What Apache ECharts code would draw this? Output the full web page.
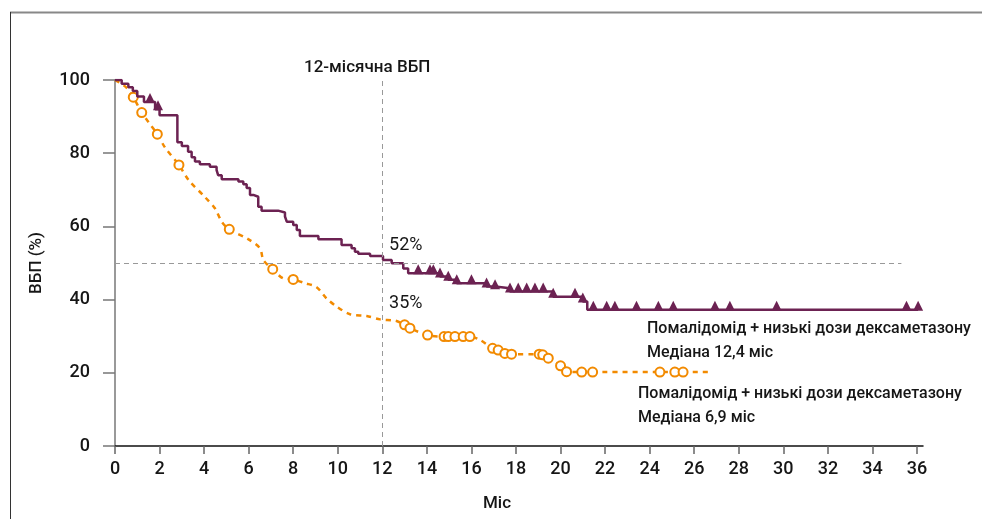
<!DOCTYPE html>
<html>
<head>
<meta charset="utf-8">
<script src="https://cdn.jsdelivr.net/npm/echarts@6/dist/echarts.min.js"></script>
<style>
html,body{margin:0;padding:0;background:#fff;}
#chart{width:982px;height:519px;}
</style>
</head>
<body>
<div id="chart"></div>
<script>
// ---- Data ----
const xTickStep = 2;             // months
const yTickValues = [0, 20, 40, 60, 80, 100];

// Pomalidomide + low-dose dex (purple) KM steps: [month, PFS %]
const purpleSteps = [
  [0,100],[0.3,99],[0.6,98],[0.8,97],[1.0,95.5],[1.3,94],[1.8,92],[2.0,90.4],
  [2.8,83],[3.0,82],[3.28,80.4],[3.44,78.9],[3.59,77.7],[3.81,77.0],[4.26,76.3],
  [4.56,75.4],[4.63,74.0],[4.79,72.9],[5.54,72.3],[5.76,71.5],[5.91,70.5],[6.06,68.6],
  [6.21,68.1],[6.43,65.4],[6.58,64.3],[7.32,63.8],[7.63,62.7],[7.71,61.3],[8.0,60.4],
  [8.16,59.0],[8.30,57.4],[9.13,56.5],[10.17,54.9],[10.62,54.0],[10.77,53.1],[10.92,52.5],
  [11.45,51.9],[12.03,50.8],[12.42,49.9],[12.94,48.5],[13.16,47.2],[14.59,46.3],[14.96,45.4],
  [15.34,44.5],[16.68,43.6],[17.06,43.1],[17.73,42.2],[19.67,40.8],[21.0,39.5],[21.2,37.2],
  [36.05,37.2]
];
// censored (triangles)
const purpleCensored = [
  [1.57,94],[1.93,92],[13.61,47.2],[14.14,47.2],[14.29,47.2],[14.59,46.3],[14.96,45.4],
  [15.34,44.5],[16.0,44.5],[16.68,43.6],[17.06,43.1],[17.73,42.2],[18.1,42.2],[18.48,42.2],
  [18.85,42.2],[19.22,42.2],[19.67,40.8],[20.65,40.8],[21.0,39.5],[21.47,37.2],[22.07,37.2],
  [22.44,37.2],[23.41,37.2],[24.39,37.2],[25.06,37.2],[26.93,37.2],[27.6,37.2],[29.7,37.2],
  [35.53,37.2],[36.05,37.2]
];

// Pomalidomide + low-dose dex (orange) curve: [month, PFS %]
const orangeCurve = [
  [0,100],[0.5,98],[0.82,95.3],[1.2,91.1],[1.5,88.5],[1.9,85.2],[2.24,81.6],[2.87,76.8],
  [3.3,72.7],[4.04,68.0],[4.49,64.9],[4.79,61.3],[5.13,59.2],[5.98,56.5],[6.51,54.0],
  [6.66,50.8],[7.08,48.3],[7.55,45.8],[8.0,45.5],[8.53,44.5],[9.05,43.4],[9.50,40.3],
  [9.95,38.1],[10.55,36.0],[11.3,35.5],[11.9,34.6],[12.6,34.2],[13.0,33.1],[13.24,32.2],
  [14.03,30.3],[14.77,29.9],[15.93,29.9],[16.38,29.0],[16.95,26.7],[17.2,26.2],[17.5,25.3],
  [17.8,25.1],[19.04,25.1],[19.2,24.9],[19.45,24.0],[20.0,21.9],[20.27,20.3],[20.95,20.2],
  [26.7,20.2]
];
// censored (circles)
const orangeCensored = [
  [0.82,95.3],[1.2,91.1],[1.9,85.2],[2.87,76.8],[5.13,59.2],[7.08,48.3],[8.0,45.5],
  [13.0,33.1],[13.24,32.2],[14.03,30.3],[14.77,29.9],[14.96,29.9],[15.26,29.9],[15.63,29.9],
  [15.93,29.9],[16.95,26.7],[17.2,26.2],[17.5,25.3],[17.8,25.1],[19.04,25.1],[19.2,24.9],
  [19.45,24.0],[20.0,21.9],[20.27,20.3],[20.95,20.2],[21.44,20.2],[24.46,20.2],[25.13,20.2],
  [25.5,20.2]
];

const landmarkMonth = 12;
const purpleAt12 = '52%';
const orangeAt12 = '35%';
const refLevel = 50;
const refLineEnd = 35.3;

const texts = {
  title: '12-місячна ВБП',
  yName: 'ВБП (%)',
  xName: 'Міс',
  arm1: 'Помалідомід + низькі дози дексаметазону',
  arm1Median: 'Медіана 12,4 міс',
  arm2: 'Помалідомід + низькі дози дексаметазону',
  arm2Median: 'Медіана 6,9 міс'
};

// ---- Chart ----
const PURPLE = '#6c2252';
const ORANGE = '#f28a00';
const FONT = 'Roboto, "Noto Sans", sans-serif';
const TXT = '#161616';

const chart = echarts.init(document.getElementById('chart'), null, {renderer: 'canvas'});

const option = {
  animation: false,
  backgroundColor: '#fff',
  title: {
    text: texts.title,
    left: 299, top: 54,
    textStyle: {fontFamily: FONT, fontSize: 17, fontWeight: 500, color: TXT}
  },
  grid: {left: 115, right: 59, top: 80, bottom: 73},
  xAxis: {
    type: 'value',
    min: 0, max: 36.27, interval: xTickStep,
    name: texts.xName,
    nameLocation: 'middle', nameGap: 49,
    nameTextStyle: {fontFamily: FONT, fontSize: 17, fontWeight: 500, color: TXT, padding: [0, 44, 0, 0]},
    axisLine: {show: true, lineStyle: {color: '#111', width: 1.5}},
    axisTick: {show: true, length: 8, lineStyle: {color: '#666', width: 1.5}},
    axisLabel: {fontFamily: FONT, fontSize: 18, fontWeight: 500, color: TXT, margin: 14,
      showMaxLabel: false},
    splitLine: {show: false}
  },
  yAxis: {
    type: 'value',
    min: 0, max: 100, interval: 20,
    name: texts.yName,
    nameLocation: 'middle', nameGap: 70,
    nameTextStyle: {fontFamily: FONT, fontSize: 17, fontWeight: 500, color: TXT},
    axisLine: {show: true, lineStyle: {color: '#777', width: 1.5}},
    axisTick: {show: true, length: 12, lineStyle: {color: '#777', width: 1.5}},
    axisLabel: {fontFamily: FONT, fontSize: 18, fontWeight: 500, color: TXT, margin: 25,
      formatter: v => yTickValues.includes(v) ? String(v) : ''},
    splitLine: {show: false}
  },
  series: [
    {
      type: 'line',
      name: 'ref',
      data: [],
      silent: true,
      markLine: {
        silent: true, symbol: 'none',
        label: {show: false},
        lineStyle: {color: '#999', type: [5, 4], width: 1},
        data: [
          [{coord: [0, refLevel]}, {coord: [refLineEnd, refLevel]}],
          [{coord: [landmarkMonth, 0]}, {coord: [landmarkMonth, 100]}]
        ]
      },
      markPoint: {
        silent: true, symbolSize: 0,
        label: {show: true, position: 'right', distance: 0, fontFamily: FONT, fontSize: 18, color: TXT,
          formatter: p => p.name},
        data: [
          {name: purpleAt12, coord: [12.3, 54.9]},
          {name: orangeAt12, coord: [12.3, 38.8]}
        ]
      }
    },
    {
      type: 'line',
      name: 'orange',
      data: orangeCurve,
      showSymbol: false,
      smooth: 0.3,
      lineStyle: {color: ORANGE, width: 2.5, type: [5, 5]},
      z: 2
    },
    {
      type: 'scatter',
      name: 'orangeC',
      data: orangeCensored,
      symbol: 'emptyCircle',
      symbolSize: 9,
      itemStyle: {color: ORANGE, borderColor: ORANGE, borderWidth: 2, opacity: 1},
      z: 3
    },
    {
      type: 'line',
      name: 'purple',
      data: purpleSteps,
      step: 'end',
      showSymbol: false,
      lineStyle: {color: PURPLE, width: 2.5},
      z: 4
    },
    {
      type: 'scatter',
      name: 'purpleC',
      data: purpleCensored,
      symbol: 'triangle',
      symbolSize: [10, 10],
      symbolOffset: [0, -4],
      itemStyle: {color: PURPLE, opacity: 1},
      z: 5
    }
  ],
  graphic: [
    {type: 'line', shape: {x1: 10, y1: 12.5, x2: 982, y2: 12.5}, style: {stroke: '#888', lineWidth: 2}, silent: true},
    {type: 'line', shape: {x1: 10.5, y1: 12, x2: 10.5, y2: 519}, style: {stroke: '#333', lineWidth: 1}, silent: true},
    {type: 'text', left: 647, top: 317, style: {text: texts.arm1 + '\n' + texts.arm1Median, fontFamily: FONT, fontSize: 16, fontWeight: 500, lineHeight: 24, fill: TXT}},
    {type: 'text', left: 638, top: 382, style: {text: texts.arm2 + '\n' + texts.arm2Median, fontFamily: FONT, fontSize: 16, fontWeight: 500, lineHeight: 24, fill: TXT}}
  ]
};

chart.setOption(option);
</script>
</body>
</html>
